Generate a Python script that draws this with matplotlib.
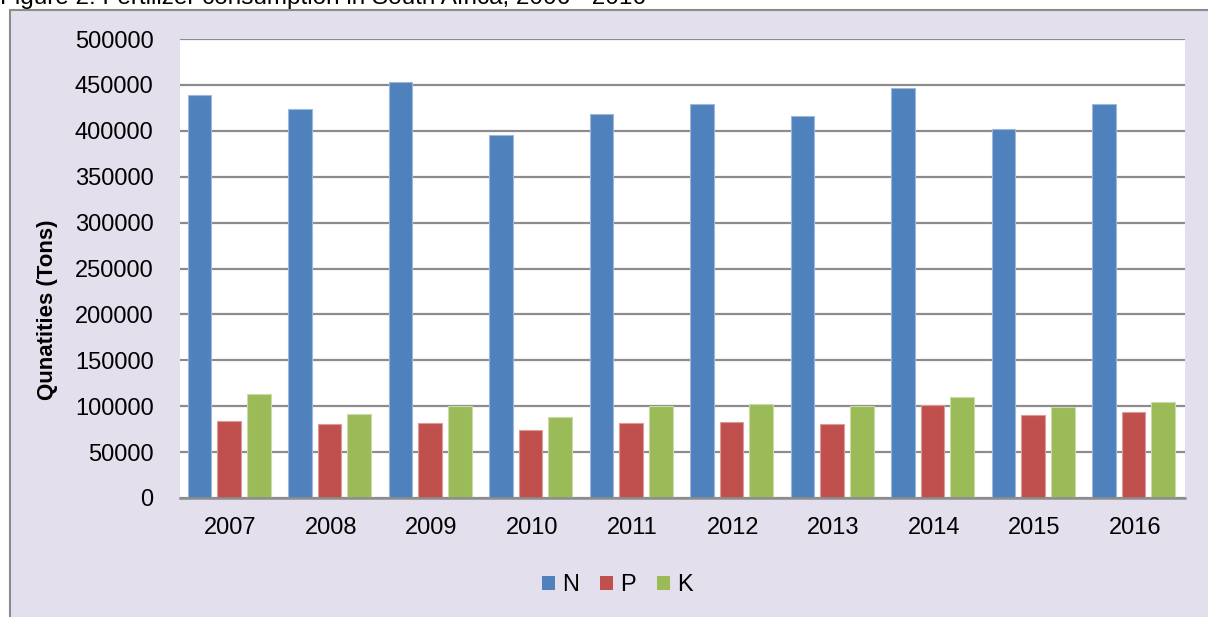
import matplotlib
matplotlib.use("Agg")
import matplotlib.pyplot as plt
from matplotlib.patches import Rectangle, Patch
import numpy as np

plt.rcParams['font.family'] = ['Liberation Sans', 'DejaVu Sans']

years = ["2007", "2008", "2009", "2010", "2011", "2012", "2013", "2014", "2015", "2016"]
n_vals = [439000, 423600, 453200, 395000, 418700, 429500, 416200, 447100, 402500, 429500]
p_vals = [83700, 80400, 81500, 74600, 81200, 82600, 80100, 101100, 90900, 94200]
k_vals = [113000, 92000, 100700, 88400, 100400, 102200, 100400, 110500, 99600, 104300]
series_names = ["N", "P", "K"]
colors = ["#4F81BD", "#C0504D", "#9BBB59"]
edge_colors = ["#9DB8DC", "#DE9A98", "#C9DBA6"]
title = "Figure 2: Fertilizer consumption in South Africa, 2006 - 2016"
ylabel = "Qunatities (Tons)"

tick_size = 17

W, H = 1208, 617
fig = plt.figure(figsize=(W / 100, H / 100), dpi=100)
fig.patch.set_facecolor("white")

frame = Rectangle((10 / W, -0.05), 1.2, 1 - 10 / H + 0.05, transform=fig.transFigure,
                  facecolor="#E4DFEC", edgecolor="#8C8C8C", linewidth=1.5, zorder=-10)
fig.patches.append(frame)

fig.text(0.0, 1 - 4 / H, title, fontsize=17.5, ha="left", va="baseline", color="black")

ax = fig.add_axes([180 / W, (H - 498) / H, (1185 - 180) / W, (498 - 39) / H])
ax.set_facecolor("white")

x = np.arange(len(years))
offsets = np.array([-0.307, -0.012, 0.283])
width = 0.236
for vals, name, c, ec, off in zip([n_vals, p_vals, k_vals], series_names, colors, edge_colors, offsets):
    ax.bar(x + off, vals, width=width, color=c, edgecolor=ec, linewidth=0.8, label=name, zorder=3)

ax.set_xlim(-0.5, len(years) - 0.5)
ax.set_ylim(0, 500000)
ax.set_yticks(np.arange(0, 500001, 50000))
ax.set_yticklabels([str(v) for v in range(0, 500001, 50000)], fontsize=tick_size)
ax.set_xticks(x)
ax.set_xticklabels(years, fontsize=tick_size)
ax.tick_params(axis="y", length=0, pad=19)
ax.tick_params(axis="x", length=0, pad=14)
ax.yaxis.grid(True, color="#8C8C8C", linewidth=1.6, zorder=1)
ax.set_axisbelow(True)
for s in ["top", "right", "left"]:
    ax.spines[s].set_visible(False)
ax.spines["bottom"].set_color("#8C8C8C")
ax.spines["bottom"].set_linewidth(1.8)
ax.spines["bottom"].set_zorder(4)

fig.text(48 / W, 1 - 310 / H, ylabel, rotation=90, fontsize=16, fontweight="bold",
         ha="center", va="center")

handles = [Patch(facecolor=c, edgecolor="none") for c in colors]
fig.legend(handles, series_names, loc="center", bbox_to_anchor=(617 / W, 1 - 585 / H),
           ncol=3, frameon=False, fontsize=tick_size,
           handlelength=0.55, handleheight=0.55, handletextpad=0.3, columnspacing=0.9)

fig.savefig("out.png", dpi=100, facecolor=fig.get_facecolor())
